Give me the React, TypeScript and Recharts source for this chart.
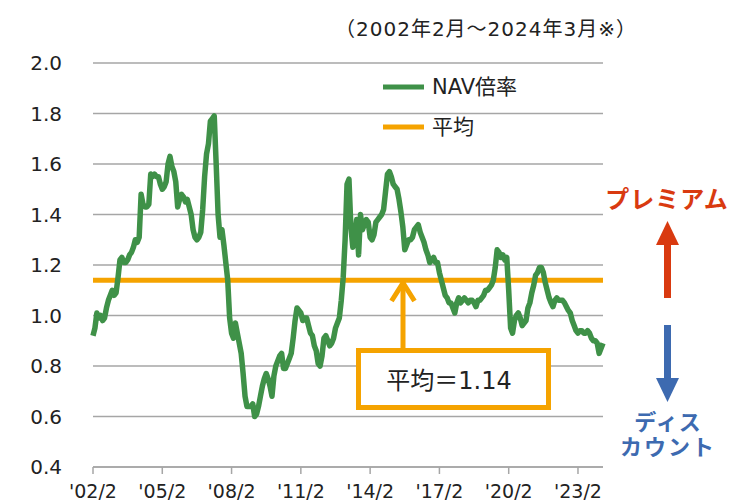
import { CartesianGrid, Legend, Line, LineChart, ReferenceLine, XAxis, YAxis } from 'recharts';

// monthly labels '02/2 ... '24/3
const months: string[] = [];
for (let y = 2002; y <= 2024; y++) {
  for (let m = 1; m <= 12; m++) {
    if ((y === 2002 && m < 2) || (y === 2024 && m > 3)) continue;
    months.push(`'${String(y % 100).padStart(2, '0')}/${m}`);
  }
}

// NAV倍率, one value per month from 2002/2
const navRatio = [
  0.92, 0.95, 1.01, 0.99, 1.0, 0.98, 0.99, 1.03, 1.06, 1.08, 1.1, // 2002
  1.08, 1.09, 1.15, 1.22, 1.23, 1.21, 1.21, 1.22, 1.24, 1.25, 1.27, 1.3, // 2003
  1.29, 1.31, 1.48, 1.44, 1.43, 1.43, 1.44, 1.56, 1.55, 1.56, 1.55, 1.55, // 2004
  1.52, 1.5, 1.51, 1.53, 1.6, 1.63, 1.59, 1.57, 1.53, 1.43, 1.46, 1.48, // 2005
  1.47, 1.45, 1.46, 1.43, 1.4, 1.34, 1.31, 1.3, 1.31, 1.33, 1.42, 1.55, // 2006
  1.64, 1.68, 1.77, 1.78, 1.79, 1.6, 1.4, 1.31, 1.34, 1.28, 1.21, 1.14, // 2007
  0.99, 0.93, 0.91, 0.97, 0.93, 0.89, 0.85, 0.77, 0.68, 0.64, 0.64, 0.64, // 2008
  0.65, 0.6, 0.61, 0.64, 0.68, 0.72, 0.75, 0.77, 0.75, 0.72, 0.68, 0.76, // 2009
  0.8, 0.82, 0.84, 0.85, 0.79, 0.79, 0.81, 0.83, 0.85, 0.91, 0.98, 1.03, // 2010
  1.02, 1.01, 0.98, 0.99, 0.99, 0.96, 0.93, 0.92, 0.88, 0.86, 0.81, 0.8, // 2011
  0.84, 0.91, 0.92, 0.9, 0.88, 0.89, 0.91, 0.95, 0.97, 0.99, 1.06, 1.15, // 2012
  1.3, 1.52, 1.54, 1.35, 1.27, 1.31, 1.38, 1.24, 1.4, 1.34, 1.36, 1.38, // 2013
  1.37, 1.31, 1.3, 1.32, 1.37, 1.38, 1.39, 1.4, 1.42, 1.49, 1.56, 1.57, // 2014
  1.55, 1.52, 1.51, 1.5, 1.46, 1.41, 1.35, 1.26, 1.28, 1.3, 1.3, 1.31, // 2015
  1.34, 1.35, 1.36, 1.33, 1.31, 1.29, 1.26, 1.24, 1.21, 1.22, 1.23, 1.21, // 2016
  1.21, 1.17, 1.14, 1.11, 1.08, 1.07, 1.05, 1.05, 1.03, 1.01, 1.05, 1.07, // 2017
  1.05, 1.06, 1.07, 1.06, 1.05, 1.06, 1.06, 1.05, 1.035, 1.06, 1.06, 1.07, // 2018
  1.08, 1.1, 1.1, 1.11, 1.12, 1.14, 1.19, 1.26, 1.25, 1.23, 1.24, 1.22, // 2019
  1.23, 1.1, 0.95, 0.93, 0.98, 1.0, 1.01, 0.99, 0.96, 0.97, 0.98, 1.03, // 2020
  1.05, 1.09, 1.12, 1.16, 1.17, 1.19, 1.19, 1.17, 1.13, 1.1, 1.07, 1.05, // 2021
  1.035, 1.06, 1.07, 1.06, 1.06, 1.06, 1.05, 1.035, 1.02, 1.01, 0.98, 0.96, // 2022
  0.94, 0.93, 0.94, 0.94, 0.93, 0.93, 0.94, 0.93, 0.91, 0.9, 0.9, 0.89, // 2023
  0.85, 0.87, 0.89, // 2024
];

const average = 1.14;
const xTicks = ["'02/2", "'05/2", "'08/2", "'11/2", "'14/2", "'17/2", "'20/2", "'23/2"];
const yTicks = [0.4, 0.6, 0.8, 1.0, 1.2, 1.4, 1.6, 1.8, 2.0];

const GREEN = '#3f9148';
const ORANGE = '#f5a300';
const GRID = '#a6a6a6';
const FONT = "'DejaVu Sans', 'Noto Sans CJK JP', sans-serif";

const data = months.map((month, i) => ({ month, nav: navRatio[i] }));

function LegendBox() {
  return (
    <svg width={170} height={70} style={{ overflow: 'visible' }}>
      <line x1={0} y1={15} x2={41} y2={15} stroke={GREEN} strokeWidth={5} />
      <text x={49} y={22} fontSize={21} fontFamily={FONT} fill="#222">NAV倍率</text>
      <line x1={0} y1={55} x2={41} y2={55} stroke={ORANGE} strokeWidth={5} />
      <text x={49} y={62} fontSize={21} fontFamily={FONT} fill="#222">平均</text>
    </svg>
  );
}

export default function App() {
  return (
    <div style={{ position: 'absolute', left: 0, top: 0, width: 738, height: 502, background: '#fff' }}>
      <LineChart
        width={738}
        height={502}
        data={data}
        margin={{ top: 63, right: 135, left: 33, bottom: 5 }}
      >
        <CartesianGrid stroke={GRID} strokeWidth={1.5} vertical={false} />
        <XAxis
          dataKey="month"
          ticks={xTicks}
          interval={0}
          height={30}
          tickSize={7}
          tickMargin={11}
          stroke={GRID}
          strokeWidth={1.5}
          tick={{ fontSize: 19, fontFamily: FONT, fill: '#222' }}
        />
        <YAxis
          domain={[0.4, 2.0]}
          ticks={yTicks}
          width={60}
          axisLine={false}
          tickLine={false}
          tickSize={6}
          tickMargin={25}
          tickFormatter={(v: number) => v.toFixed(1)}
          tick={{ fontSize: 20, fontFamily: FONT, fill: '#222' }}
        />
        <ReferenceLine y={average} stroke={ORANGE} strokeWidth={5} />
        <Line
          dataKey="nav"
          stroke={GREEN}
          strokeWidth={5.5}
          dot={false}
          strokeLinejoin="round"
          isAnimationActive={false}
        />
        <Legend
          layout="vertical"
          align="center"
          verticalAlign="middle"
          content={() => <LegendBox />}
          wrapperStyle={{ left: 383, top: 72, width: 170, height: 70 }}
        />
      </LineChart>

      <svg
        width={738}
        height={502}
        style={{ position: 'absolute', left: 0, top: 0, pointerEvents: 'none' }}
      >
        <text x={486} y={36} textAnchor="middle" fontSize={20} letterSpacing={1} fontFamily={FONT} fill="#222">
          （2002年2月～2024年3月※）
        </text>

        {/* average annotation */}
        <line x1={403} y1={350} x2={403} y2={282} stroke={ORANGE} strokeWidth={5} />
        <polyline points="391.5,301 403,283 414.5,301" fill="none" stroke={ORANGE} strokeWidth={5} />
        <rect x={358.5} y={350.5} width={190} height={57} fill="#fff" stroke={ORANGE} strokeWidth={5} />
        <text x={449} y={389} textAnchor="middle" fontSize={24} fontFamily={FONT} fill="#222">
          平均＝1.14
        </text>

        {/* premium / discount */}
        <text x={667} y={208} textAnchor="middle" fontSize={24} letterSpacing={1} fontWeight="bold" fontFamily={FONT} fill="#d93a10">
          プレミアム
        </text>
        <polygon points="656,245 667.5,221 679,245" fill="#d93a10" />
        <rect x={664} y={244} width={7} height={54} fill="#d93a10" />
        <rect x={664} y={325} width={7} height={54} fill="#3d6ab0" />
        <polygon points="656,378 667.5,402 679,378" fill="#3d6ab0" />
        <text x={668} y={430} textAnchor="middle" fontSize={22} letterSpacing={1} fontWeight="bold" fontFamily={FONT} fill="#3d6ab0">
          ディス
        </text>
        <text x={668} y={455} textAnchor="middle" fontSize={22} letterSpacing={2} fontWeight="bold" fontFamily={FONT} fill="#3d6ab0">
          カウント
        </text>
      </svg>
    </div>
  );
}
